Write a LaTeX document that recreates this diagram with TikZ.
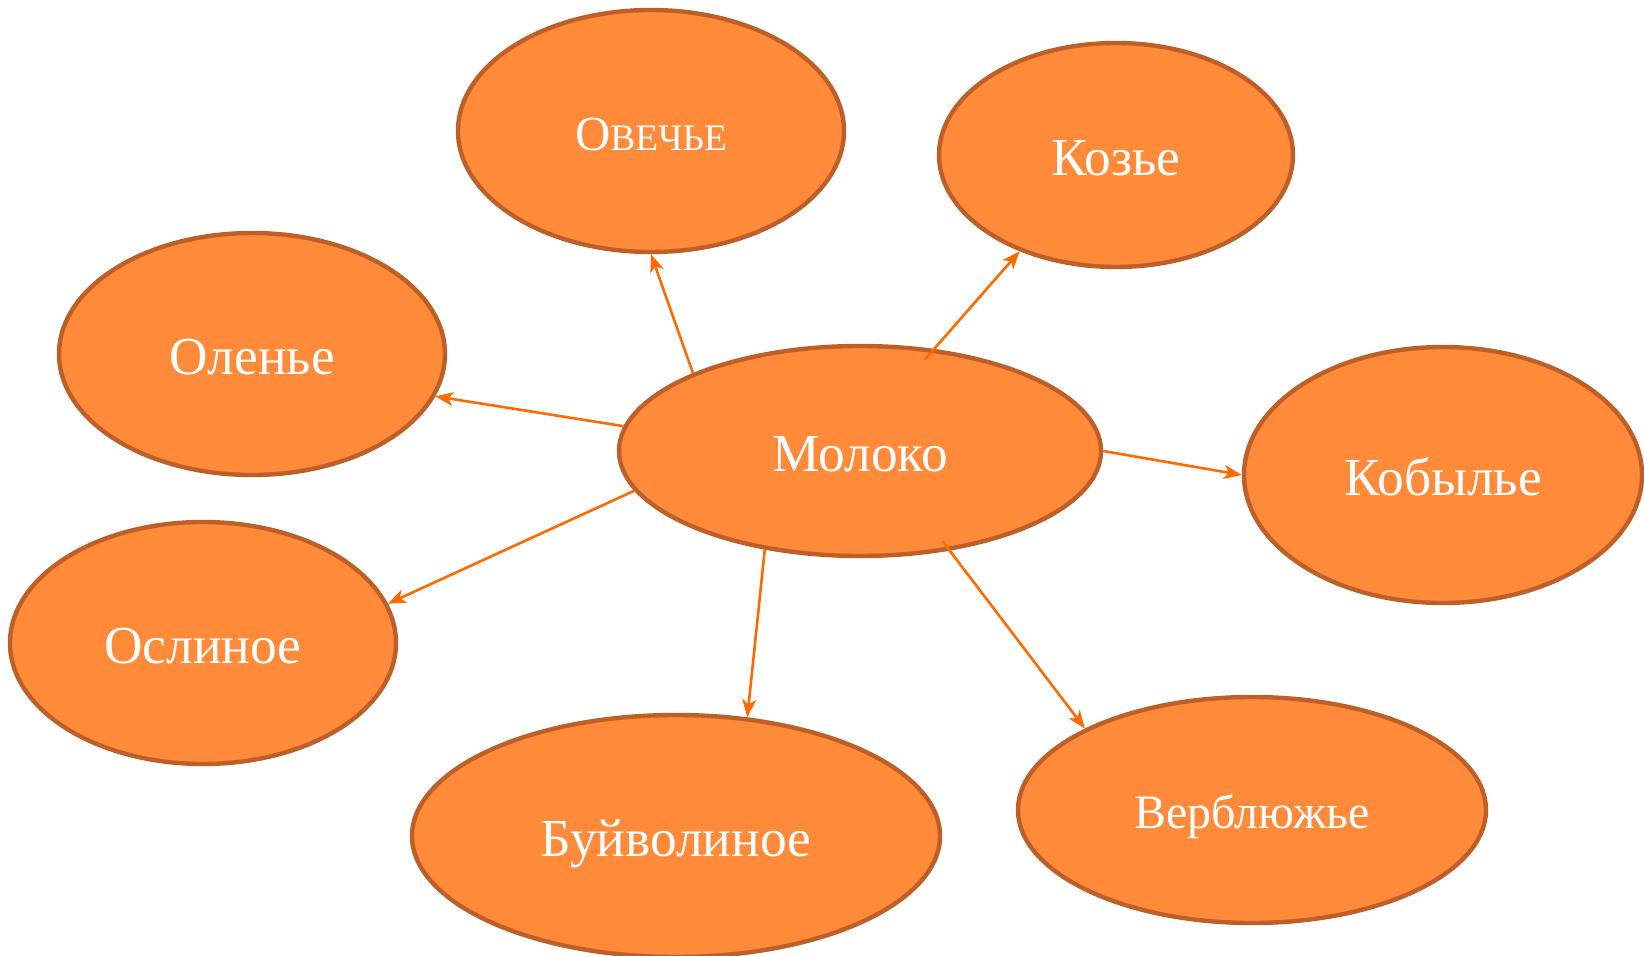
\documentclass[tikz,border=0pt]{standalone}
\usepackage{fontspec}
\setmainfont{Liberation Serif}
\usetikzlibrary{shapes.geometric,arrows.meta}
\definecolor{fillor}{HTML}{FF8A3A}
\definecolor{edgeor}{HTML}{BE5F28}
\definecolor{arrowor}{HTML}{FF6A00}
\tikzset{
  bubble/.style={ellipse, draw=edgeor, fill=fillor, line width=2.2pt, inner sep=0pt,
    text=white, text height=20.8pt, text depth=0pt, font=\fontsize{26.7}{30}\selectfont},
  link/.style={draw=arrowor, line width=1.3pt, -{Stealth[length=9pt,width=7pt,inset=2.5pt]}}
}
\begin{document}
\begin{tikzpicture}[x=0.5pt,y=-0.5pt]
\useasboundingbox (0,0) rectangle (1644,956);
\node[bubble, minimum width=193pt, minimum height=121pt, text height=19.1pt, font=\fontsize{24.5}{28}\selectfont] (ov) at (651,131) {О\fontsize{18.7}{22}\selectfont ВЕЧЬЕ};
\node[bubble, minimum width=177pt, minimum height=112pt] (ko) at (1116,155) {Козье};
\node[bubble, minimum width=193pt, minimum height=121pt] (ol) at (252,354) {Оленье};
\node[bubble, minimum width=241pt, minimum height=105pt] (m) at (860,451) {Молоко};
\node[bubble, minimum width=199pt, minimum height=128pt] (kb) at (1443,475) {Кобылье};
\node[bubble, minimum width=193pt, minimum height=121pt] (os) at (203,643) {Ослиное};
\node[bubble, minimum width=264pt, minimum height=121pt] (bu) at (676,836) {Буйволиное};
\node[bubble, minimum width=234pt, minimum height=113pt, text height=18.7pt, font=\fontsize{24}{28}\selectfont] (ve) at (1252,810) {Верблюжье};
\draw[link] (m.155.8) -- (ov.270);
\draw[link, shorten <=-7pt] (m.54) -- (ko.225);
\draw[link] (m.174.3) -- (ol.347.5);
\draw[link] (m.0) -- (kb.180);
\draw[link] (m.190.3) -- (os.12.8);
\draw[link] (m.226) -- (bu.59);
\draw[link, shorten <=-6pt] (m.312) -- (ve.154.3);
\end{tikzpicture}
\end{document}
